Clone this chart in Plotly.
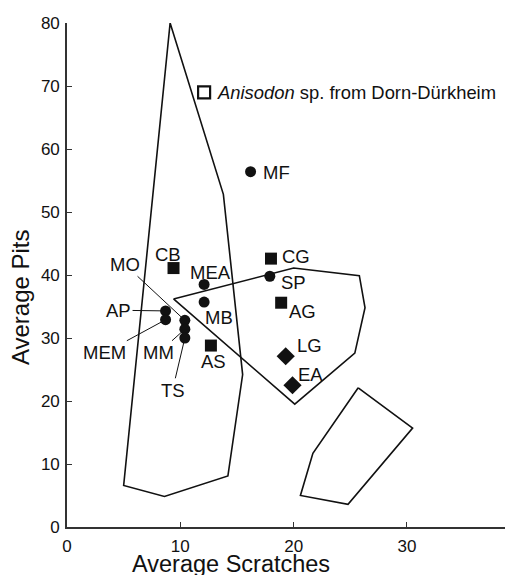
import plotly.graph_objects as go

# ---- data ----
circle_labels = ["MF", "MEA", "MB", "AP", "MEM", "MO", "MM", "TS", "SP"]
circle_x = [16.2, 12.1, 12.1, 8.7, 8.7, 10.4, 10.4, 10.4, 17.9]
circle_y = [56.4, 38.5, 35.7, 34.3, 32.9, 32.8, 31.4, 30.0, 39.8]

square_labels = ["CB", "AS", "CG", "AG"]
square_x = [9.4, 12.7, 18.0, 18.9]
square_y = [41.1, 28.8, 42.6, 35.6]

diamond_labels = ["LG", "EA"]
diamond_x = [19.3, 19.9]
diamond_y = [27.1, 22.5]

anisodon_label = "<i>Anisodon</i> sp. from Dorn-Dürkheim"
anisodon_x = [12.1]
anisodon_y = [69.0]

poly1_x = [9.1, 13.8, 15.5, 14.2, 8.6, 5.0, 9.1]
poly1_y = [80.0, 52.8, 24.2, 8.1, 4.85, 6.6, 80.0]
poly2_x = [9.4, 20.0, 25.8, 26.3, 25.4, 20.1, 9.4]
poly2_y = [36.2, 41.1, 39.9, 34.8, 27.6, 19.5, 36.2]
poly3_x = [25.7, 30.5, 24.8, 20.6, 21.7, 25.7]
poly3_y = [22.1, 15.7, 3.6, 5.0, 11.7, 22.1]

x_ticks = [0, 10, 20, 30]
y_ticks = [0, 10, 20, 30, 40, 50, 60, 70, 80]

# ---- label placement (layout, not data) ----
plain_labels = {
    "MF": (17.16, 56.2, "left"),
    "CB": (8.9, 43.3, "center"),
    "MEA": (10.68, 40.4, "left"),
    "MB": (13.45, 33.3, "center"),
    "AS": (12.89, 26.2, "center"),
    "CG": (18.83, 42.95, "left"),
    "SP": (18.71, 38.77, "left"),
    "AG": (19.42, 34.2, "left"),
    "LG": (20.1, 28.86, "left"),
    "EA": (20.25, 24.27, "left"),
}
leader_labels = {
    "MO": (5.09, 41.7),
    "AP": (4.55, 34.4),
    "MEM": (3.33, 27.66),
    "MM": (8.09, 27.66),
    "TS": (9.31, 21.7),
}

FONT = "Liberation Sans, Arial, Helvetica, sans-serif"
INK = "#111111"
LABEL_SIZE = 18.5

fig = go.Figure()
for px_, py_ in [(poly1_x, poly1_y), (poly2_x, poly2_y), (poly3_x, poly3_y)]:
    fig.add_trace(go.Scatter(x=px_, y=py_, mode="lines",
                             line=dict(color=INK, width=1.6),
                             hoverinfo="skip", showlegend=False))

fig.add_trace(go.Scatter(x=circle_x, y=circle_y, mode="markers", text=circle_labels,
                         marker=dict(symbol="circle", size=11, color=INK),
                         showlegend=False))
fig.add_trace(go.Scatter(x=square_x, y=square_y, mode="markers", text=square_labels,
                         marker=dict(symbol="square", size=12, color=INK),
                         showlegend=False))
fig.add_trace(go.Scatter(x=diamond_x, y=diamond_y, mode="markers", text=diamond_labels,
                         marker=dict(symbol="diamond", size=14, color=INK),
                         showlegend=False))
fig.add_trace(go.Scatter(x=anisodon_x, y=anisodon_y, mode="markers",
                         marker=dict(symbol="square-open", size=12, color=INK,
                                     line=dict(width=2.2, color=INK)),
                         showlegend=False))

pts = {}
for labs, xs, ys in [(circle_labels, circle_x, circle_y),
                     (square_labels, square_x, square_y),
                     (diamond_labels, diamond_x, diamond_y)]:
    for l, xx, yy in zip(labs, xs, ys):
        pts[l] = (xx, yy)

annotations = []
for lab, (tx, ty, anc) in plain_labels.items():
    annotations.append(dict(x=tx, y=ty, xref="x", yref="y", text=lab, showarrow=False,
                            xanchor=anc, yanchor="middle",
                            font=dict(size=LABEL_SIZE, color=INK, family=FONT)))
for lab, (tx, ty) in leader_labels.items():
    px0, py0 = pts[lab]
    annotations.append(dict(x=px0, y=py0, ax=tx, ay=ty, xref="x", yref="y",
                            axref="x", ayref="y", text=lab, showarrow=True,
                            arrowhead=0, arrowwidth=1, arrowcolor=INK, standoff=4,
                            font=dict(size=LABEL_SIZE, color=INK, family=FONT)))
annotations.append(dict(x=anisodon_x[0] + 0.95, y=anisodon_y[0], xref="x", yref="y",
                        text=anisodon_label, showarrow=False, xanchor="left",
                        yanchor="middle", font=dict(size=18.4, color=INK, family=FONT)))
# axis titles
annotations.append(dict(x=0.373, y=-0.043, xref="paper", yref="paper",
                        text="Average Scratches", showarrow=False, xanchor="center",
                        yanchor="top", font=dict(size=23.5, color=INK, family=FONT)))
annotations.append(dict(x=-0.107, y=0.456, xref="paper", yref="paper",
                        text="Average Pits", showarrow=False, textangle=-90,
                        xanchor="center", yanchor="middle",
                        font=dict(size=24, color=INK, family=FONT)))

# page body has an 8px margin, so the figure is sized to fit the window
fig.update_layout(
    width=505, height=567,
    margin=dict(l=59, r=6, t=13, b=48),
    paper_bgcolor="white", plot_bgcolor="white",
    font=dict(family=FONT, color=INK),
    annotations=annotations,
    xaxis=dict(range=[0, 38.83], tickvals=x_ticks, ticks="inside", ticklen=5,
               tickcolor="#333", showline=True, linecolor="#333", linewidth=1.6,
               showgrid=False, zeroline=False, tickfont=dict(size=17, color=INK),
               ticklabelstandoff=3),
    yaxis=dict(range=[0, 80], tickvals=y_ticks, ticks="inside", ticklen=5,
               tickcolor="#333", showline=True, linecolor="#333", linewidth=1.6,
               showgrid=False, zeroline=False, tickfont=dict(size=17, color=INK),
               ticklabelstandoff=2),
)

fig.write_html("out.html")
